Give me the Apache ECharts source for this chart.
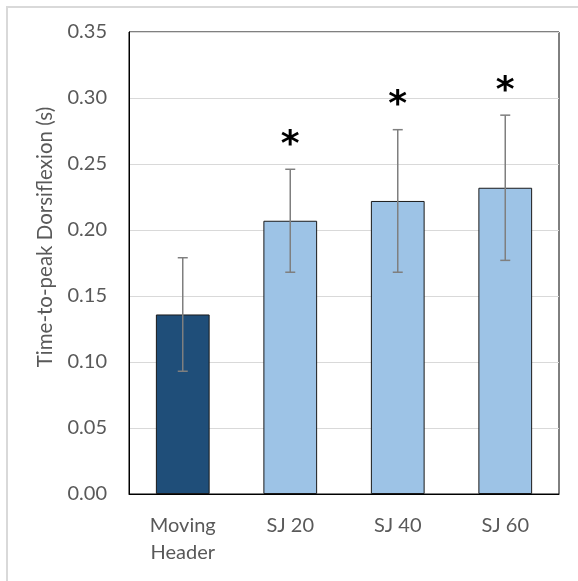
<!DOCTYPE html>
<html>
<head>
<meta charset="utf-8">
<script src="https://cdn.jsdelivr.net/npm/echarts@6/dist/echarts.min.js"></script>
<style>
  html, body { margin: 0; padding: 0; background: #fff; }
  #chart { width: 578px; height: 581px; }
</style>
</head>
<body>
<div id="chart"></div>
<script>
// Time-to-peak dorsiflexion per condition (mean and standard deviation, seconds)
const categories = ['Moving\nHeader', 'SJ 20', 'SJ 40', 'SJ 60'];
const meanValues = [0.136, 0.207, 0.222, 0.232];
const sdValues = [0.043, 0.039, 0.054, 0.055];
const significance = ['', '*', '*', '*'];
const barColors = ['#1F4E79', '#9DC3E6', '#9DC3E6', '#9DC3E6'];
const yTicks = [0, 0.05, 0.10, 0.15, 0.20, 0.25, 0.30, 0.35];

const fontFamily = 'Lato, "Liberation Sans", sans-serif';
const textGray = '#595959';

const chart = echarts.init(document.getElementById('chart'), null, { renderer: 'canvas' });

// Error bar + significance marker for each category
function renderErrorBar(params, api) {
  const idx = api.value(0);
  const mean = api.value(1);
  const sd = api.value(2);
  const top = api.coord([idx, mean + sd]);
  const bottom = api.coord([idx, mean - sd]);
  const cap = 5;
  const lineStyle = { stroke: '#7F7F7F', lineWidth: 1.5 };
  const children = [
    { type: 'line', shape: { x1: top[0], y1: top[1], x2: bottom[0], y2: bottom[1] }, style: lineStyle },
    { type: 'line', shape: { x1: top[0] - cap, y1: top[1], x2: top[0] + cap, y2: top[1] }, style: lineStyle },
    { type: 'line', shape: { x1: bottom[0] - cap, y1: bottom[1], x2: bottom[0] + cap, y2: bottom[1] }, style: lineStyle }
  ];
  const mark = significance[idx];
  if (mark) {
    children.push({
      type: 'text',
      x: top[0],
      y: top[1] - 24,
      style: {
        text: mark,
        fill: '#000',
        font: 'bold 36px "DejaVu Sans", sans-serif',
        textAlign: 'center',
        textVerticalAlign: 'middle'
      }
    });
  }
  return { type: 'group', children: children };
}

const option = {
  animation: false,
  backgroundColor: '#fff',
  grid: {
    left: 129, right: 19, top: 32, bottom: 87,
    show: true, borderColor: '#000', borderWidth: 1, backgroundColor: 'transparent'
  },
  xAxis: {
    type: 'category',
    data: categories,
    axisLine: { show: true, lineStyle: { color: '#000', width: 1 } },
    axisTick: { show: false },
    axisLabel: {
      color: textGray, fontFamily: fontFamily, fontSize: 20,
      lineHeight: 27, margin: 18, interval: 0
    }
  },
  yAxis: {
    type: 'value',
    min: 0, max: 0.35, interval: 0.05,
    axisLine: { show: true, lineStyle: { color: '#000', width: 1 } },
    axisTick: { show: false },
    splitLine: { show: true, lineStyle: { color: '#D9D9D9', width: 1 } },
    axisLabel: {
      color: textGray, fontFamily: fontFamily, fontSize: 20, margin: 22,
      formatter: function (v) {
        const t = yTicks.find(function (y) { return Math.abs(y - v) < 1e-9; });
        return (t !== undefined ? t : v).toFixed(2);
      }
    }
  },
  graphic: [
    {
      type: 'rect',
      shape: { x: 7, y: 7, width: 600, height: 600 },
      style: { fill: 'none', stroke: '#D9D9D9', lineWidth: 2 },
      silent: true, z: -10
    },
    {
      type: 'text',
      x: 45, y: 237,
      rotation: Math.PI / 2,
      style: {
        text: 'Time-to-peak Dorsiflexion (s)',
        fill: textGray,
        font: '20.5px ' + fontFamily,
        textAlign: 'center',
        textVerticalAlign: 'middle'
      }
    }
  ],
  series: [
    {
      type: 'bar',
      barWidth: '50%',
      data: meanValues.map(function (v, i) {
        return { value: v, itemStyle: { color: barColors[i] } };
      }),
      itemStyle: { borderColor: '#1A1A1A', borderWidth: 1 },
      z: 2
    },
    {
      type: 'custom',
      renderItem: renderErrorBar,
      data: meanValues.map(function (v, i) { return [i, v, sdValues[i]]; }),
      z: 3
    }
  ]
};

chart.setOption(option);
</script>
</body>
</html>
